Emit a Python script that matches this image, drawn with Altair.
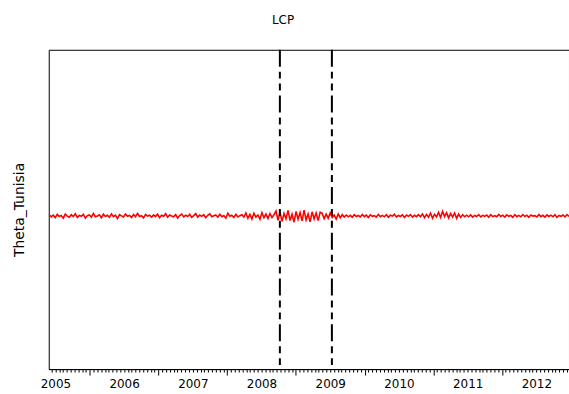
import altair as alt
import numpy as np
import pandas as pd

# --- data -------------------------------------------------------------
theta = [
    # 2005.4 - 2008.3
    -0.032, -0.047, -0.036, -0.051, -0.030, -0.044, -0.038, -0.055, -0.029, -0.042,
    -0.049, -0.033, -0.045, -0.027, -0.050, -0.037, -0.043, -0.031, -0.054, -0.039,
    -0.035, -0.048, -0.026, -0.046, -0.041, -0.034, -0.052, -0.030, -0.044, -0.037,
    -0.049, -0.028, -0.045, -0.036, -0.057, -0.033, -0.040, -0.047, -0.029, -0.043,
    -0.038, -0.050, -0.032, -0.046, -0.025, -0.044, -0.039, -0.053, -0.031, -0.042,
    -0.036, -0.048, -0.034, -0.045, -0.030, -0.051, -0.037, -0.043, -0.027, -0.049,
    -0.035, -0.041, -0.046, -0.032, -0.054, -0.038, -0.029, -0.047, -0.036, -0.044,
    -0.031, -0.050, -0.039, -0.026, -0.048, -0.035, -0.043, -0.033, -0.052, -0.037,
    -0.028, -0.046, -0.040, -0.034, -0.049, -0.030, -0.045, -0.038, -0.055, -0.024,
    -0.043, -0.036, -0.050, -0.031, -0.047, -0.039, -0.033, -0.048,
    # 2008.3 - 2008.8
    -0.022, -0.055, -0.031, -0.060, -0.024, -0.048, -0.035, -0.062, -0.020, -0.052,
    -0.029, -0.057, -0.026, -0.050, -0.033,
    # crisis 2008.8 - 2009.4
    -0.010, -0.068, -0.018, -0.075, -0.025, -0.058, -0.006, -0.070, -0.030, -0.080,
    -0.012, -0.062, -0.020, -0.072, -0.004, -0.066, -0.028, -0.078, -0.015, -0.060,
    -0.022, -0.070, -0.018,
    # 2009.4 - 2009.8
    -0.025, -0.058, -0.030, -0.055, -0.022, -0.050, -0.035, -0.060, -0.028, -0.052,
    -0.033, -0.048,
    # 2009.8 - 2010.9
    -0.035, -0.046, -0.037, -0.049, -0.033, -0.044, -0.038, -0.047, -0.032, -0.045,
    -0.036, -0.050, -0.034, -0.043, -0.039, -0.048, -0.031, -0.045, -0.037, -0.046,
    -0.033, -0.049, -0.036, -0.042, -0.030, -0.047, -0.038, -0.044, -0.034, -0.050,
    -0.035, -0.043, -0.032, -0.048, -0.037, -0.045, -0.033, -0.046,
    # 2010.9 - 2011.6
    -0.028, -0.052, -0.031, -0.049, -0.024, -0.055, -0.030, -0.047, -0.018, -0.050,
    -0.012, -0.045, -0.020, -0.053, -0.026, -0.048, -0.022, -0.056, -0.029, -0.050,
    -0.033, -0.046,
    # 2011.6 - 2013.0
    -0.036, -0.046, -0.034, -0.048, -0.038, -0.044, -0.032, -0.047, -0.037, -0.043,
    -0.035, -0.049, -0.033, -0.045, -0.039, -0.046, -0.031, -0.044, -0.036, -0.048,
    -0.034, -0.043, -0.038, -0.050, -0.033, -0.045, -0.037, -0.046, -0.032, -0.044,
    -0.036, -0.049, -0.035, -0.042, -0.039, -0.047, -0.031, -0.045, -0.037, -0.048,
    -0.034, -0.044, -0.036, -0.046, -0.033, -0.049, -0.038, -0.043, -0.035, -0.047,
    -0.032, -0.044,
]
t_start, t_end = 2005.41, 2012.975
break_dates = [2008.767, 2009.524]
years = [2005, 2006, 2007, 2008, 2009, 2010, 2011, 2012]

x_domain = [2005.403, 2012.975]
y_domain = [-1, 1]

t = np.linspace(t_start, t_end, len(theta))
df = pd.DataFrame({"t": t, "theta": theta})
brk = pd.DataFrame({"d": break_dates})

label_pos = [y + 0.5 for y in years]
major_pos = [y for y in years + [2013] if x_domain[0] <= y <= x_domain[1]]
minor_pos = [y + k / 18 for y in [2005] + years for k in range(1, 18)
             if x_domain[0] <= y + k / 18 <= x_domain[1]]
minor_pos = sorted(set(minor_pos))

font = "DejaVu Sans"

def xscale():
    return alt.Scale(domain=x_domain, nice=False, zero=False)

line = alt.Chart(df).mark_line(color="#ff0000", strokeWidth=1.6).encode(
    x=alt.X("t:Q", scale=xscale(),
            axis=alt.Axis(values=label_pos, labelExpr="floor(datum.value)",
                          ticks=False, labelPadding=10, title=None, grid=False,
                          orient="bottom", labelFontSize=12, labelFont=font,
                          labelColor="black", domainColor="black",
                          labelFlush=False)),
    y=alt.Y("theta:Q", scale=alt.Scale(domain=y_domain, nice=False, zero=False),
            axis=alt.Axis(title="Theta_Tunisia", labels=False, ticks=False,
                          domain=False, grid=False, titlePadding=22,
                          titleFontSize=14, titleFont=font,
                          titleFontWeight="normal", titleColor="black")),
)

rules = alt.Chart(brk).mark_rule(color="black", strokeWidth=2,
                                  strokeDash=[17, 5, 7, 5, 7, 5]).encode(
    x=alt.X("d:Q", scale=xscale(),
            axis=alt.Axis(values=major_pos, labels=False, tickSize=6,
                          tickColor="black", domain=False, grid=False,
                          title=None, orient="bottom")),
)

minor = alt.Chart(brk).mark_rule(strokeOpacity=0).encode(
    x=alt.X("d:Q", scale=xscale(),
            axis=alt.Axis(values=minor_pos, labels=False, tickSize=3,
                          tickColor="black", domain=False, grid=False,
                          title=None, orient="bottom")),
)

chart = alt.layer(line, minor, rules).resolve_scale(x="independent").properties(
    width=523, height=321,
    title=alt.Title("LCP", fontSize=12, font=font, fontWeight="normal",
                    color="black", dx=-26, offset=22),
    autosize=alt.AutoSizeParams(type="none"),
    padding={"left": 49, "top": 49, "right": 0, "bottom": 24},
    background="white",
).configure_view(stroke="black", strokeWidth=1)

chart.save("out.html", embed_options={"renderer": "svg", "actions": False})
